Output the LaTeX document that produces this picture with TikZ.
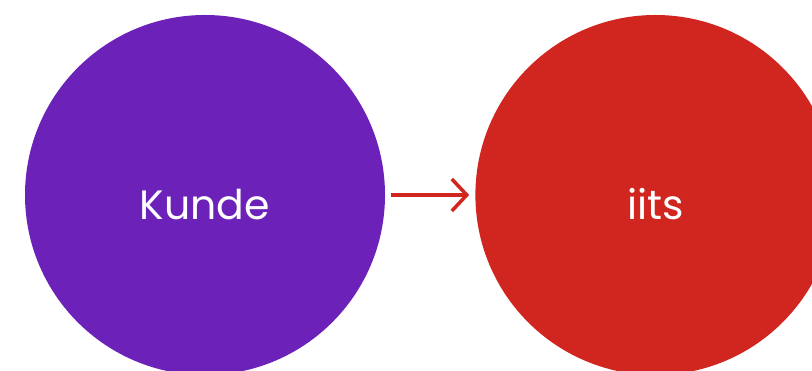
\documentclass[tikz,border=0pt]{standalone}
\usepackage{fontspec}
\setmainfont{Poppins}
\usetikzlibrary{positioning, arrows.meta}
\definecolor{kundepurple}{HTML}{6C22B9}
\definecolor{iitsred}{HTML}{D0261F}

\begin{document}
\begin{tikzpicture}[
            x=1pt, y=1pt,
            party/.style={circle, minimum size=360pt, inner sep=0pt, text=white, text height=50pt, text depth=0pt, font=\fontsize{41}{48}\selectfont},
            flow/.style={draw=iitsred, line width=3.5pt, -{Straight Barb[length=15pt, width=32pt, line width=3.5pt]}}
        ]
            \useasboundingbox (0,0) rectangle (812,371);

            % Left circle
            \node[party, fill=kundepurple] (kunde) at (205,176) {Kunde};

            % Right circle
            \node[party, fill=iitsred, right=90pt of kunde] (iits) {iits};

            % Arrow between them
            \draw[flow, shorten <=6pt, shorten >=6pt] (kunde.east) -- (iits.west);
        \end{tikzpicture}
\end{document}
